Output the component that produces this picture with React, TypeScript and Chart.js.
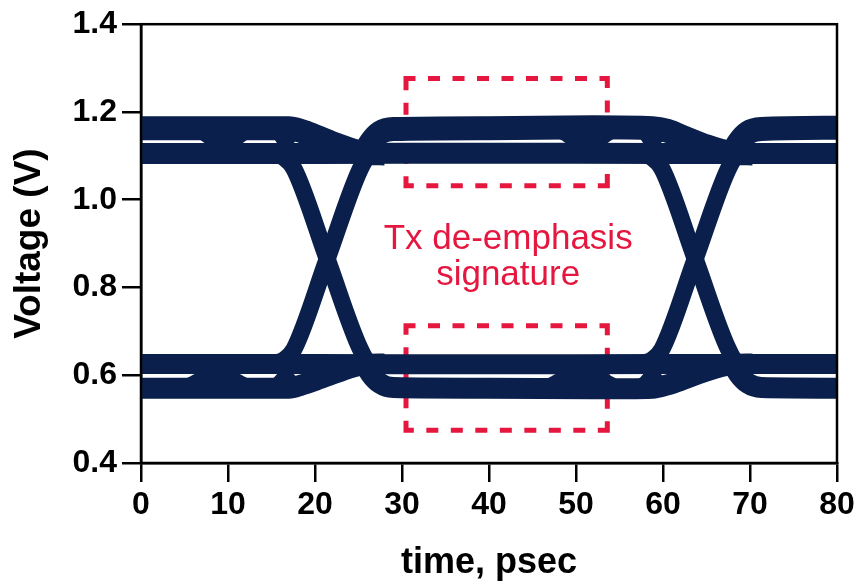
import React, { useEffect, useRef } from 'react';
import { Chart, registerables } from 'chart.js';

Chart.register(...registerables);

type Pt = [number, number | null];

// ---- axes ----
const xTicks = [0, 10, 20, 30, 40, 50, 60, 70, 80];
const yTicks = [0.4, 0.6, 0.8, 1.0, 1.2, 1.4];
const xTitle = 'time, psec';
const yTitle = 'Voltage (V)';

// ---- eye diagram traces (time ps, voltage V) ----
// de-emphasized high / low rails (continuous)
const highDeemph: Pt[] = [[0, 1.1055], [20, 1.1055], [40, 1.106], [60, 1.1055], [80, 1.1055]];
const lowDeemph: Pt[] = [[0, 0.6255], [20, 0.6255], [40, 0.625], [60, 0.6255], [80, 0.6255]];

// full-swing high after a rising edge (then decays to de-emphasis level)
const highFullA: Pt[] = [[0, 1.163], [8, 1.163], [17, 1.163], [18.5, 1.156], [20, 1.145], [22.5, 1.125], [25.5, 1.107], [28, 1.1055]];
const highFullB: Pt[] = [[25.4, 1.095], [26.4, 1.13], [27.5, 1.153], [29, 1.161], [40, 1.163], [52, 1.165], [58.8, 1.163], [60.5, 1.157], [62, 1.145], [64.5, 1.125], [67.8, 1.107], [70.3, 1.1055]];
const highFullC: Pt[] = [[67.7, 1.095], [68.7, 1.13], [69.8, 1.153], [71.3, 1.161], [80, 1.164]];

// full-swing low after a falling edge
const lowFullA: Pt[] = [[0, 0.5705], [8, 0.5705], [17, 0.5705], [18.5, 0.578], [20, 0.588], [22.5, 0.606], [25.5, 0.624], [28, 0.6255]];
const lowFullB: Pt[] = [[25.4, 0.637], [26.4, 0.603], [27.5, 0.581], [29, 0.572], [40, 0.5705], [52, 0.569], [58.8, 0.5705], [60.5, 0.578], [62, 0.588], [64.5, 0.606], [67.8, 0.624], [70.3, 0.6255]];
const lowFullC: Pt[] = [[67.7, 0.637], [68.7, 0.603], [69.8, 0.581], [71.3, 0.572], [80, 0.5705]];

// transitions (legs of the X)
const riseLegA: Pt[] = [[12, 0.6255], [15, 0.627], [16.5, 0.636], [17.6, 0.66], [21.4, 0.865], [25.2, 1.07], [26.2, 1.1], [27.5, 1.106]];
const fallLegA: Pt[] = [[12, 1.1055], [15, 1.104], [16.5, 1.095], [17.6, 1.07], [21.4, 0.865], [25.2, 0.66], [26.2, 0.63], [27.5, 0.6255]];
const riseLegB: Pt[] = [[54.3, 0.6255], [57.3, 0.627], [58.8, 0.636], [59.9, 0.66], [63.7, 0.865], [67.5, 1.07], [68.5, 1.1], [69.8, 1.106]];
const fallLegB: Pt[] = [[54.3, 1.1055], [57.3, 1.104], [58.8, 1.095], [59.9, 1.07], [63.7, 0.865], [67.5, 0.66], [68.5, 0.63], [69.8, 0.6255]];

// ISI ripples that close the gap between the two sub-levels of each rail
const highRipples: Pt[] = [
  [5.5, 1.163], [7, 1.147], [8.3, 1.1325], [10.7, 1.1325], [12, 1.147], [13.5, 1.163], [13.6, null],
  [14.6, 1.163], [15.7, 1.147], [16.3, 1.1325], [16.9, 1.1325], [17.5, 1.147], [18.2, 1.163], [18.3, null],
  [46.5, 1.163], [48.5, 1.147], [49.8, 1.1325], [52.6, 1.1325], [53.9, 1.147], [55.5, 1.163], [55.6, null],
  [56.8, 1.163], [57.8, 1.147], [58.4, 1.1325], [59.1, 1.1325], [59.7, 1.147], [60.4, 1.163],
];
const lowRipples: Pt[] = [
  [4.4, 0.5705], [5.9, 0.587], [7.2, 0.5985], [10.3, 0.5985], [11.6, 0.587], [13.1, 0.5705], [13.2, null],
  [14.6, 0.5705], [15.7, 0.587], [16.3, 0.5985], [16.9, 0.5985], [17.5, 0.587], [18.2, 0.5705], [18.3, null],
  [45.9, 0.5705], [47.4, 0.587], [48.7, 0.5985], [52.6, 0.5985], [53.9, 0.587], [55.4, 0.5705], [55.5, null],
  [56.8, 0.5705], [57.8, 0.587], [58.4, 0.5985], [59.1, 0.5985], [59.7, 0.587], [60.4, 0.5705],
];

// ---- annotation ----
const boxUpper: Pt[] = [
  [30.46, 1.276], [53.6, 1.276], [53.6, null],
  [53.6, 1.276], [53.6, 1.032], [53.6, null],
  [53.6, 1.032], [30.46, 1.032], [30.46, null],
  [30.46, 1.032], [30.46, 1.276],
];
const boxLower: Pt[] = [
  [30.46, 0.7126], [53.6, 0.7126], [53.6, null],
  [53.6, 0.7126], [53.6, 0.4745], [53.6, null],
  [53.6, 0.4745], [30.46, 0.4745], [30.46, null],
  [30.46, 0.4745], [30.46, 0.7126],
];
const noteLines = ['Tx de-emphasis', 'signature'];
const noteX = 42.2;
const noteY = [0.8876, 0.8063];

const NAVY = '#0A1F4B';
const RED = '#E5173F';
const FONT = '"Liberation Sans", Arial, Helvetica, sans-serif';

export default function App() {
  const ref = useRef<HTMLCanvasElement>(null);

  useEffect(() => {
    const canvas = ref.current;
    if (!canvas) return;
    const toXY = (a: Pt[]) => a.map(([x, y]) => ({ x, y }));
    const trace = (data: Pt[], w: number) => ({
      data: toXY(data),
      borderColor: NAVY,
      backgroundColor: NAVY,
      borderWidth: w,
      pointRadius: 0,
      cubicInterpolationMode: 'monotone',
      tension: 0.4,
      borderCapStyle: 'butt',
      fill: false,
      spanGaps: false,
      clip: 0,
    });
    const box = (data: Pt[]) => ({
      data: toXY(data),
      borderColor: RED,
      borderWidth: 5,
      borderDash: [7, 17.5],
      borderCapStyle: 'square',
      borderJoinStyle: 'miter',
      pointRadius: 0,
      tension: 0,
      fill: false,
      spanGaps: false,
      clip: false,
    });

    const overlay = {
      id: 'overlay',
      afterDatasetsDraw(chart: any) {
        const { ctx, scales } = chart;
        ctx.save();
        ctx.fillStyle = RED;
        ctx.font = `35px ${FONT}`;
        ctx.textAlign = 'center';
        ctx.textBaseline = 'alphabetic';
        noteLines.forEach((s, i) => {
          ctx.fillText(s, scales.x.getPixelForValue(noteX), scales.y.getPixelForValue(noteY[i]));
        });
        ctx.restore();
      },
      afterDraw(chart: any) {
        const { ctx, chartArea: a } = chart;
        ctx.save();
        ctx.strokeStyle = '#000';
        ctx.lineWidth = 2.5;
        ctx.strokeRect(a.left, a.top, a.right - a.left, a.bottom - a.top);
        ctx.restore();
      },
    };

    const chart = new Chart(canvas, {
      type: 'line',
      data: {
        datasets: [
          trace(highDeemph, 21),
          trace(lowDeemph, 20),
          trace(highFullA, 24),
          trace(highFullB, 24),
          trace(highFullC, 24),
          trace(lowFullA, 21),
          trace(lowFullB, 21),
          trace(lowFullC, 21),
          trace(riseLegA, 17),
          trace(fallLegA, 17),
          trace(riseLegB, 17),
          trace(fallLegB, 17),
          trace(highRipples, 10),
          trace(lowRipples, 10),
          box(boxUpper),
          box(boxLower),
        ] as any,
      },
      options: {
        responsive: false,
        animation: false,
        events: [],
        layout: { padding: { top: 20, right: 23, left: 0, bottom: 0 } },
        plugins: { legend: { display: false }, tooltip: { enabled: false } },
        scales: {
          x: {
            type: 'linear',
            min: 0,
            max: 80,
            afterBuildTicks: (s: any) => { s.ticks = xTicks.map((v) => ({ value: v })); },
            afterFit: (s: any) => { s.height = 122; },
            grid: { drawOnChartArea: false, drawTicks: true, tickLength: 19, tickWidth: 2.5, tickColor: '#000', lineWidth: 2.5, color: '#000' },
            border: { display: true, color: '#000', width: 2.5 },
            ticks: {
              color: '#000',
              padding: 4,
              maxRotation: 0,
              autoSkip: false,
              font: { family: FONT, size: 32, weight: 'bold' },
              callback: (v: any) => String(v),
            },
            title: {
              display: true,
              text: xTitle,
              color: '#000',
              font: { family: FONT, size: 36, weight: 'bold' },
              padding: { top: 0, bottom: 0 },
            },
          },
          y: {
            type: 'linear',
            min: 0.4,
            max: 1.4,
            afterBuildTicks: (s: any) => { s.ticks = yTicks.map((v) => ({ value: v })); },
            afterFit: (s: any) => { s.width = 141; },
            grid: { drawOnChartArea: false, drawTicks: true, tickLength: 19, tickWidth: 2.5, tickColor: '#000', lineWidth: 2.5, color: '#000' },
            border: { display: true, color: '#000', width: 2.5 },
            ticks: {
              color: '#000',
              padding: 5,
              autoSkip: false,
              font: { family: FONT, size: 32, weight: 'bold' },
              callback: (v: any) => Number(v).toFixed(1),
            },
            title: {
              display: true,
              text: yTitle,
              color: '#000',
              font: { family: FONT, size: 37, weight: 'bold' },
              padding: { top: 8, bottom: 0 },
            },
          },
        },
      } as any,
      plugins: [overlay],
    });

    return () => chart.destroy();
  }, []);

  return (
    <div style={{ position: 'absolute', left: 0, top: 0, width: 860, height: 585, background: '#fff' }}>
      <canvas ref={ref} width={860} height={585} style={{ display: 'block', width: 860, height: 585 }} />
    </div>
  );
}
